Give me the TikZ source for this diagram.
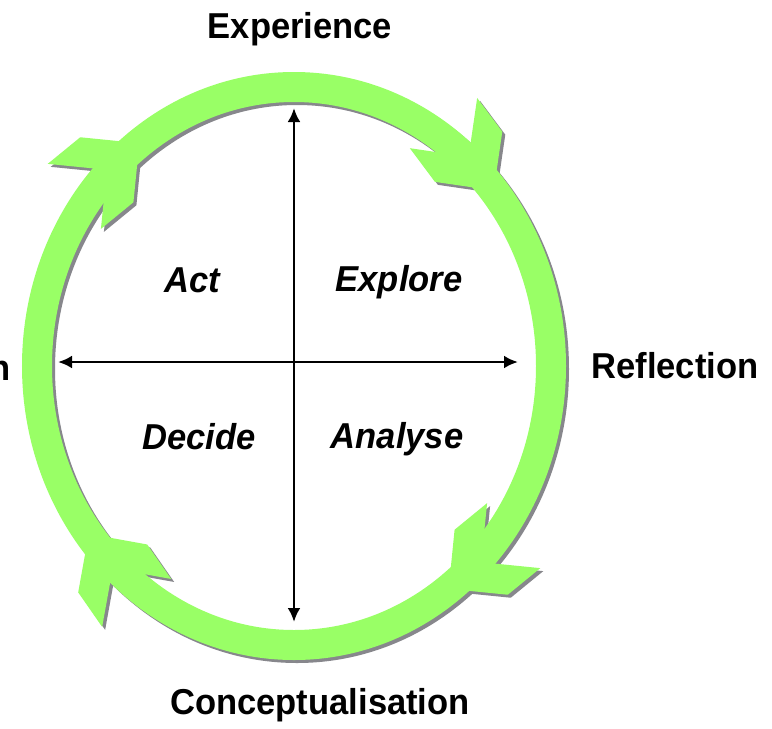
\documentclass[tikz,border=0pt]{standalone}
\usepackage{fontspec}
\setmainfont{Liberation Sans}
\newfontfamily\lblfont[FakeStretch=0.96]{Liberation Sans}
\usetikzlibrary{arrows.meta}
\definecolor{ringgreen}{RGB}{153,255,102}
\definecolor{shadowgray}{RGB}{135,135,140}
\newcommand{\chevron}[4]{% #1 param angle of tip, #2 colour, #3 dx, #4 dy
  \pgfmathsetmacro{\cpx}{294+257*cos(#1)+#3}
  \pgfmathsetmacro{\cpy}{366-279*sin(#1)+#4}
  \pgfmathsetmacro{\cux}{257*sin(#1)}
  \pgfmathsetmacro{\cuy}{279*cos(#1)}
  \pgfmathsetmacro{\cnn}{veclen(\cux,\cuy)}
  \pgfmathsetmacro{\cux}{\cux/\cnn}
  \pgfmathsetmacro{\cuy}{\cuy/\cnn}
  \fill[#2] (\cpx,\cpy)
    -- ({\cpx-42*\cux-42*\cuy},{\cpy-42*\cuy+42*\cux})
    -- ({\cpx-84*\cux-42*\cuy},{\cpy-84*\cuy+42*\cux})
    -- ({\cpx-42*\cux},{\cpy-42*\cuy})
    -- ({\cpx-84*\cux+42*\cuy},{\cpy-84*\cuy-42*\cux})
    -- ({\cpx-42*\cux+42*\cuy},{\cpy-42*\cuy-42*\cux})
    -- cycle;
}
\tikzset{
  lbl/.style={font=\lblfont\bfseries\fontsize{36}{36}\selectfont, inner sep=0pt},
  quad/.style={font=\lblfont\bfseries\itshape\fontsize{36}{36}\selectfont, inner sep=0pt},
  axis/.style={line width=2.8pt, {Latex[length=14pt,width=13pt]}-{Latex[length=14pt,width=13pt]}}
}
\begin{document}
\begin{tikzpicture}[x=1pt,y=-1pt]
\clip (0,0) rectangle (772,729);
\fill[white] (0,0) rectangle (772,729);
% shadows
\draw[shadowgray, line width=30pt] (297,369) ellipse [x radius=257, y radius=279];
\chevron{39}{shadowgray}{3}{3}
\chevron{127}{shadowgray}{3}{3}
\chevron{217}{shadowgray}{3}{3}
\chevron{307}{shadowgray}{3}{3}
% ring
\draw[ringgreen, line width=30pt] (294,366) ellipse [x radius=257, y radius=279];
\chevron{39}{ringgreen}{0}{0}
\chevron{127}{ringgreen}{0}{0}
\chevron{217}{ringgreen}{0}{0}
\chevron{307}{ringgreen}{0}{0}
% axes
\coordinate (vtop) at (294,108);
\coordinate (vbot) at (294,622);
\coordinate (hleft) at (58,362);
\coordinate (hright) at (518,362);
\draw[axis] (vbot) -- (vtop);
\draw[axis] (hleft) -- (hright);
% labels
\node[lbl] (exp) at (300,29) {Experience};
\node[lbl] (ref) at (675,366) {Reflection};
\node[lbl] (con) at (320,705) {Conceptualisation};
\node[lbl, anchor=east] (act) at (11,368) {Action};
\node[quad] (qact) at (192,280) {Act};
\node[quad] (qexp) at (399,282) {Explore};
\node[quad] (qdec) at (199,437) {Decide};
\node[quad] (qana) at (397,439) {Analyse};
\end{tikzpicture}
\end{document}
